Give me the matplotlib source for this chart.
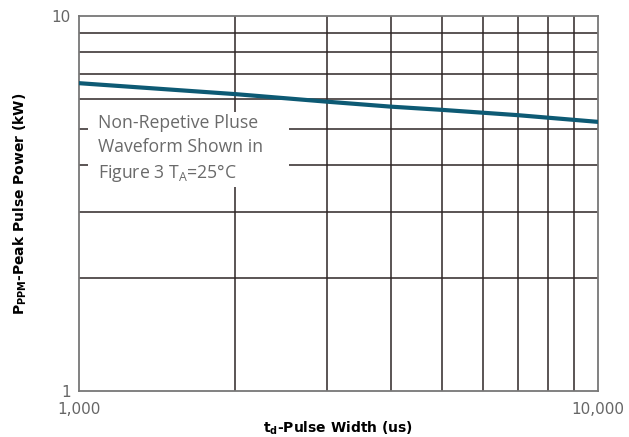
import numpy as np
import matplotlib.pyplot as plt
from matplotlib.ticker import FixedLocator, NullLocator, FixedFormatter

# courbe
pulse_width = [1000, 2000, 3000, 4000, 5000, 7000, 10000]
peak_power = [6.62, 6.19, 5.91, 5.73, 5.62, 5.44, 5.22]

x_ticks = [1000, 10000]
x_labels = ['1,000', '10,000']
y_ticks = [1, 10]
y_labels = ['1', '10']

grid_x = [2000, 3000, 4000, 5000, 6000, 7000, 8000, 9000]
grid_y = [2, 3, 4, 5, 6, 7, 8, 9]

fig = plt.figure(figsize=(6.29, 4.37), dpi=100)
ax = fig.add_axes([79/629, 1-391/437, (598-79)/629, (391-16)/437])
ax.set_xscale('log')
ax.set_yscale('log')
ax.set_xlim(1000, 10000)
ax.set_ylim(1, 10)

for gx in grid_x:
    ax.axvline(gx, color='#2e2626', lw=1.1, zorder=1)
for gy in grid_y:
    ax.axhline(gy, color='#2e2626', lw=1.1, zorder=1)

ax.plot(pulse_width, peak_power, color='#0d5a74', lw=3, zorder=3)

ax.xaxis.set_major_locator(FixedLocator(x_ticks))
ax.xaxis.set_major_formatter(FixedFormatter(x_labels))
ax.xaxis.set_minor_locator(NullLocator())
ax.yaxis.set_major_locator(FixedLocator(y_ticks))
ax.yaxis.set_major_formatter(FixedFormatter(y_labels))
ax.yaxis.set_minor_locator(NullLocator())
ax.tick_params(length=0, labelsize=11, labelcolor='#666666')
ax.tick_params(axis='y', pad=6)
ax.tick_params(axis='x', pad=8)
for s in ax.spines.values():
    s.set_color('#777777')
    s.set_linewidth(1.3)

ax.set_xlabel(r'$\mathbf{t_d}$-Pulse Width (us)', fontsize=10, fontweight='bold', labelpad=2)
ax.set_ylabel(r'$\mathbf{P_{PPM}}$-Peak Pulse Power (kW)', fontsize=10, fontweight='bold', labelpad=16)

# boite de texte blanche
ax.add_patch(plt.Rectangle(((88-79)/519, (391-187)/375), 201/519, 75/375,
                           transform=ax.transAxes, facecolor='white', edgecolor='none', zorder=2))
ax.text((98-79)/519, (391-114)/375,
        'Non-Repetive Pluse\nWaveform Shown in\nFigure 3 T$_\\mathregular{A}$=25\u00b0C',
        transform=ax.transAxes, fontsize=12.7, color='#6a6a6a', va='top', ha='left',
        family='Open Sans', linespacing=1.4, zorder=4)

fig.savefig('out.png', dpi=100)
